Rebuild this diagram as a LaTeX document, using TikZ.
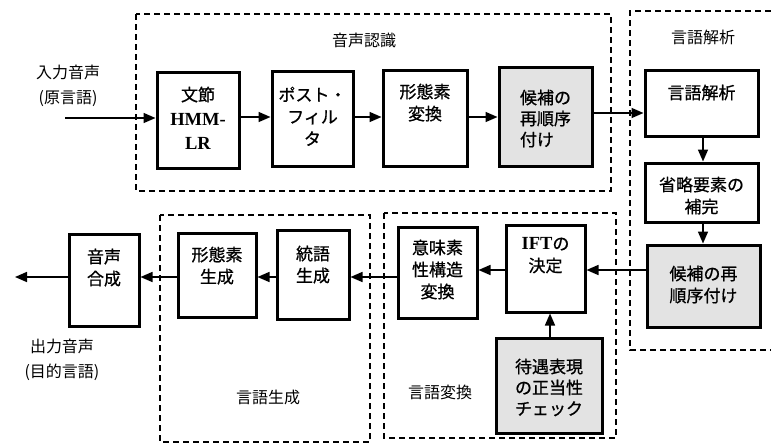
\documentclass[tikz,border=0pt]{standalone}
\usepackage{fontspec}
\setmainfont{Liberation Serif}
\newfontfamily\jp{Noto Sans CJK JP}
\newfontfamily\jpb[FakeBold=0.8]{Noto Sans CJK JP}
\usetikzlibrary{arrows.meta}
\newcommand{\latinbf}[1]{{\rmfamily\bfseries\fontsize{18.5}{22}\selectfont #1}}
\begin{document}
\begin{tikzpicture}[x=1pt,y=-1pt,
 box/.style={draw,line width=3pt,rectangle,inner sep=0pt},
 shadebox/.style={box,fill=gray!22},
 txt/.style={font=\jpb\fontsize{17}{22}\selectfont,align=center,anchor=north,inner sep=0pt},
 region/.style={line width=1.2pt,dash pattern=on 6pt off 4pt},
 arr/.style={line width=1.6pt,-{Triangle[length=12pt,width=10pt]}},
 lab/.style={font=\jp\fontsize{16}{25}\selectfont,align=center,inner sep=0pt}]
\useasboundingbox (0,0) rectangle (771,445);
% regions
\draw[region] (136,14) rectangle (611,191);
\draw[region] (771,11) -- (630,11) -- (630,350) -- (771,350);
\draw[region] (384,213) rectangle (616,438);
\draw[region] (160,215) rectangle (370,442);
\node[lab] (t1) at (364,40) {音声認識};
\node[lab] (t2) at (703,37) {言語解析};
\node[lab] (t3) at (268,397) {言語生成};
\node[lab] (t4) at (440,392) {言語変換};
% top row
\node[box,minimum width=82pt,minimum height=96pt] (hmm) at (198,120) {};
\node[txt,font=\jpb\fontsize{17}{24}\selectfont] (hmmT) at ([yshift=-16pt]hmm.north) {文節\\\latinbf{HMM-}\\\latinbf{LR}};
\node[box,minimum width=81pt,minimum height=95pt] (post) at (312.5,118.5) {};
\node[txt] (postT) at ([yshift=-17pt]post.north) {ポスト・\\フィル\\タ};
\node[box,minimum width=84pt,minimum height=96pt] (kei) at (425,118) {};
\node[txt] (keiT) at ([yshift=-15pt]kei.north) {形態素\\変換};
\node[shadebox,minimum width=93pt,minimum height=99pt] (ko1) at (545.5,116.5) {};
\node[txt,align=left,font=\jpb\fontsize{17}{21}\selectfont] (ko1T) at ([yshift=-24pt]ko1.north) {候補の\\再順序\\付け};
% right column
\node[box,minimum width=113pt,minimum height=66pt] (gen) at (701.5,103) {};
\node[txt] (genT) at ([yshift=-16pt]gen.north) {言語解析};
\node[box,minimum width=113pt,minimum height=59pt] (sho) at (701.5,192.5) {};
\node[txt] (shoT) at ([yshift=-15pt]sho.north) {省略要素の\\補完};
\node[shadebox,minimum width=113pt,minimum height=82pt] (ko2) at (703.5,286) {};
\node[txt] (ko2T) at ([yshift=-22pt]ko2.north) {候補の再\\順序付け};
% bottom row
\node[box,minimum width=79pt,minimum height=87pt] (ift) at (545.5,268.5) {};
\node[txt] (iftT) at ([yshift=-14pt]ift.north) {\latinbf{IFT}の\\決定};
\node[box,minimum width=79pt,minimum height=91pt] (imi) at (437.5,272.5) {};
\node[txt] (imiT) at ([yshift=-14pt]imi.north) {意味素\\性構造\\変換};
\node[shadebox,minimum width=106pt,minimum height=95pt] (tai) at (549,385.5) {};
\node[txt,font=\jpb\fontsize{17}{21}\selectfont] (taiT) at ([yshift=-22pt]tai.north) {待遇表現\\の正当性\\チェック};
\node[box,minimum width=72pt,minimum height=89pt] (tou) at (313,274.5) {};
\node[txt] (touT) at ([yshift=-17pt]tou.north) {統語\\生成};
\node[box,minimum width=78pt,minimum height=84pt] (kei2) at (217,275) {};
\node[txt] (kei2T) at ([yshift=-15pt]kei2.north) {形態素\\生成};
\node[box,minimum width=70pt,minimum height=92pt] (ons) at (104,280) {};
\node[txt] (onsT) at ([yshift=-16pt]ons.north) {音声\\合成};
% io labels
\node[lab] (inL) at (68,86) {入力音声\\(原言語)};
\node[lab] (outL) at (62,360) {出力音声\\(目的言語)};
\coordinate (inP) at (65,118);
\coordinate (outP) at (15,277);
% arrows
\draw[arr] (inP) -- (inP -| hmm.west);
\draw[arr] (hmm.east |- 0,117) -- (post.west |- 0,117);
\draw[arr] (post.east |- 0,117) -- (kei.west |- 0,117);
\draw[arr] (kei.east |- 0,117) -- (ko1.west |- 0,117);
\draw[arr] (ko1.east |- 0,113) -- (gen.west |- 0,113);
\draw[arr] (gen.south -| 703,0) -- (sho.north -| 703,0);
\draw[arr] (sho.south -| 703,0) -- (ko2.north -| 703,0);
\draw[arr] (ko2.west |- 0,270) -- (ift.east |- 0,270);
\draw[arr] (ift.west |- 0,270) -- (imi.east |- 0,270);
\draw[arr] (tai.north -| 550,0) -- (ift.south -| 550,0);
\draw[arr] (imi.west |- 0,277) -- (tou.east |- 0,277);
\draw[arr] (tou.west |- 0,277) -- (kei2.east |- 0,277);
\draw[arr] (kei2.west |- 0,277) -- (ons.east |- 0,277);
\draw[arr] (ons.west |- outP) -- (outP);
\end{tikzpicture}
\end{document}
